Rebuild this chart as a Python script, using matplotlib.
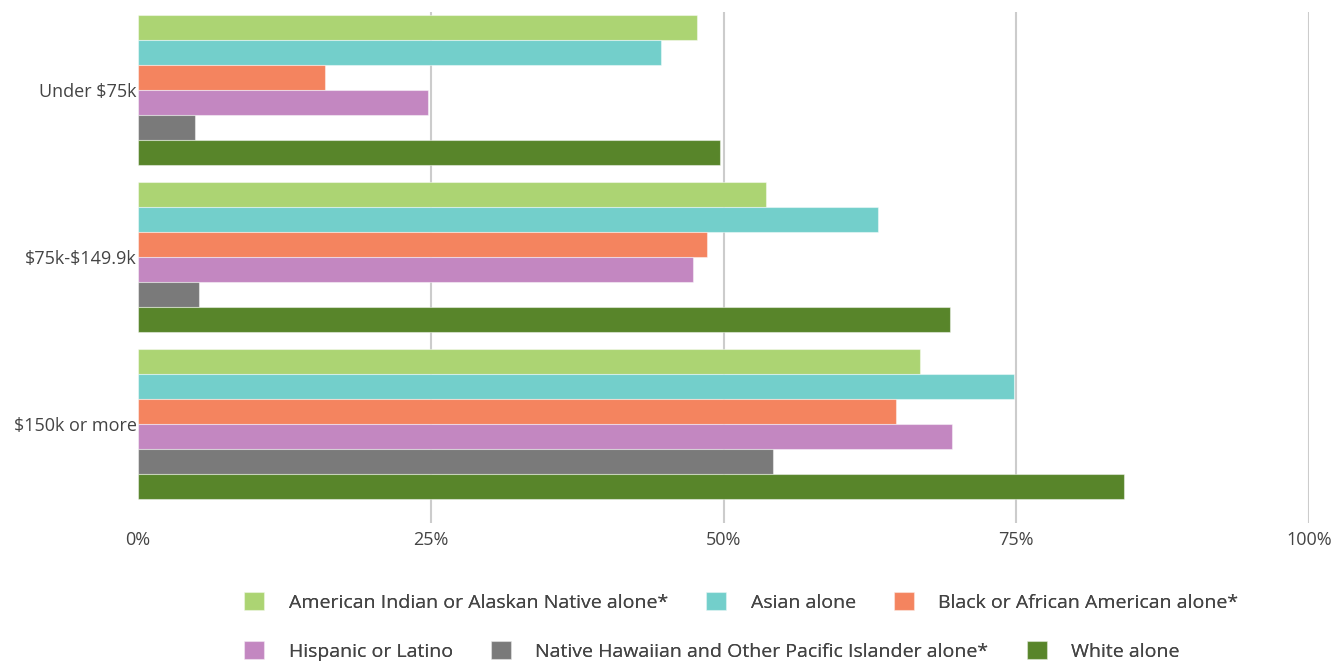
import numpy as np
import matplotlib.pyplot as plt
from matplotlib.patches import Patch

plt.rcParams['font.family'] = ['Open Sans', 'DejaVu Sans']
plt.rcParams['text.parse_math'] = False

categories = ['Under $75k', '$75k-$149.9k', '$150k or more']
series = ['American Indian or Alaskan Native alone*', 'Asian alone',
          'Black or African American alone*', 'Hispanic or Latino',
          'Native Hawaiian and Other Pacific Islander alone*', 'White alone']
aian = [47.7, 53.6, 66.8]
asian = [44.7, 63.2, 74.8]
black = [16.0, 48.6, 64.7]
hispanic = [24.8, 47.4, 69.5]
nhpi = [4.9, 5.2, 54.2]
white = [49.7, 69.3, 84.2]
values = [aian, asian, black, hispanic, nhpi, white]
colors = ['#acd473', '#73cfcb', '#f4845f', '#c387c1', '#7a7a7a', '#58852a']
xticks = [0, 25, 50, 75, 100]
xlabels = ['0%', '25%', '50%', '75%', '100%']

text_col = '#444444'

fig = plt.figure(figsize=(13.32, 6.62), dpi=100)
ax = fig.add_axes([138 / 1332, 1 - 523 / 662, (1309 - 138) / 1332, (523 - 12) / 662])

y = np.arange(len(categories))
h = 0.15
for i, (vals, c) in enumerate(zip(values, colors)):
    ax.barh(y + (i - 2.5) * h, vals, height=h, color=c,
            edgecolor=(1, 1, 1, 0.45), linewidth=0.8, zorder=3)

ax.set_xlim(0, 100)
ax.set_ylim(2.593, -0.467)
ax.set_xticks(xticks)
ax.set_xticklabels(xlabels)
ax.set_yticks(y)
ax.set_yticklabels(categories)
ax.tick_params(axis='both', length=0, labelsize=13, labelcolor=text_col)
ax.tick_params(axis='x', pad=6)
ax.tick_params(axis='y', pad=1)
for s in ax.spines.values():
    s.set_visible(False)
ax.grid(axis='x', color='#cccccc', linewidth=1.5, zorder=0)
ax.xaxis.get_gridlines()[0].set_visible(False)

handles = [Patch(facecolor=c, edgecolor=(1, 1, 1, 0.5), linewidth=0.8) for c in colors]
rows = [(0, 3, 1 - 602 / 662), (3, 6, 1 - 651 / 662)]
for a, b, ypos in rows:
    leg = fig.legend(handles[a:b], series[a:b], loc='center left',
                     bbox_to_anchor=(244 / 1332, ypos), ncol=3, frameon=False,
                     fontsize=14, handlelength=1.05, handleheight=1.05,
                     handletextpad=1.25, columnspacing=1.95, borderpad=0,
                     borderaxespad=0, labelcolor=text_col)
    fig.add_artist(leg)

fig.savefig('out.png', dpi=100, facecolor='white')
